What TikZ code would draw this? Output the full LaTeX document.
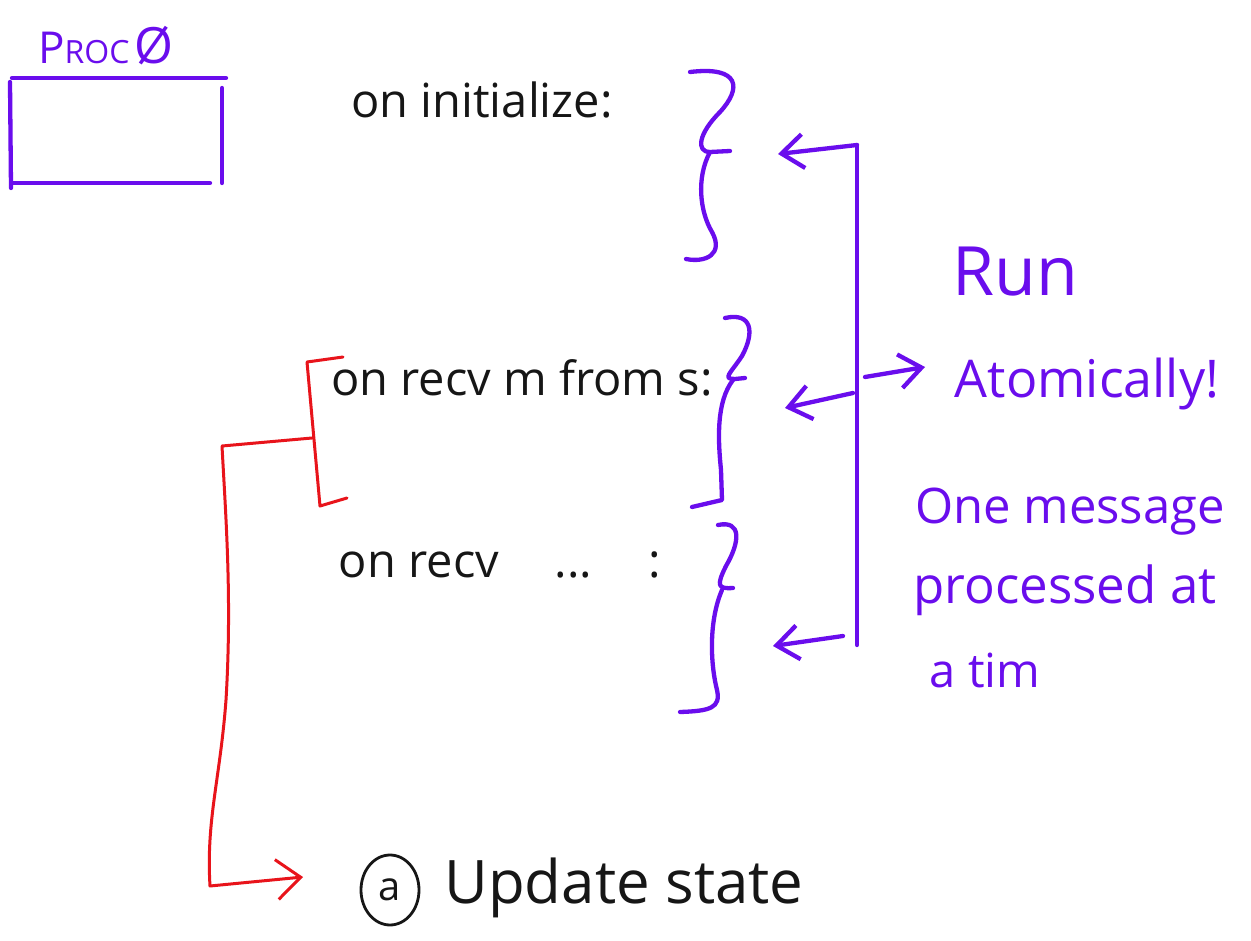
\documentclass[tikz,border=0pt]{standalone}
\usepackage{fontspec}
\setmainfont{Open Sans}
\usetikzlibrary{arrows.meta,shapes.geometric}
\definecolor{pur}{HTML}{6A0DED}
\definecolor{rd}{HTML}{E8141B}
\definecolor{ink}{HTML}{161616}
\tikzset{
  pen/.style={draw=pur, line width=4.3pt, line cap=round, line join=round},
  redpen/.style={draw=rd, line width=3pt, line cap=round, line join=round},
  barb/.style={-{Straight Barb[length=22pt,width=34pt]}},
  rbarb/.style={-{Straight Barb[length=24pt,width=40pt]}},
  btext/.style={text=ink, inner sep=0pt, anchor=center},
  ptext/.style={text=pur, inner sep=0pt, anchor=center},
}
\begin{document}
\begin{tikzpicture}[x=1pt,y=-1pt]
\useasboundingbox[fill=white] (0,0) rectangle (1251,941);

% Proc box
\node[ptext, font=\fontsize{32}{32}\selectfont] (proc) at (106,46) {{\fontsize{44}{44}\selectfont P}ROC\,{\fontsize{50}{50}\selectfont Ø}};
\draw[pen] (12,78) -- (226,78);
\draw[pen] (10,82) -- (11,188);
\draw[pen] (12,183) -- (210,183);
\draw[pen] (222,88) -- (222,183);

% black texts
\node[btext, font=\fontsize{47}{47}\selectfont] (init) at (482,100) {on initialize:};
\node[btext, font=\fontsize{47}{47}\selectfont] (recv1) at (522,378) {on recv m from s:};
\node[btext, font=\fontsize{47}{47}\selectfont] (recv2) at (500,565) {on recv\hspace{56pt}...\hspace{56pt}:};
\node[draw=ink, line width=2.8pt, ellipse, minimum width=58pt, minimum height=70pt, inner sep=0pt, text=ink, font=\fontsize{40}{40}\selectfont] (circa) at (390,890) {a};
\node[btext, font=\fontsize{60}{60}\selectfont] (upd) at (624,888) {Update state};

% braces
\draw[pen] (690,72) .. controls (740,66) and (742,88) .. (720,112) .. controls (698,134) and (696,152) .. (710,152) -- (730,151);
\draw[pen] (710,152) .. controls (696,178) and (700,212) .. (712,232) .. controls (724,254) and (706,263) .. (686,259);

\draw[pen] (725,318) .. controls (752,312) and (755,332) .. (742,356) .. controls (730,374) and (722,379) .. (735,379) -- (745,378);
\draw[pen] (733,380) .. controls (716,402) and (718,440) .. (721,470) -- (722,500) -- (692,507);

\draw[pen] (718,525) .. controls (742,520) and (740,542) .. (726,566) .. controls (716,586) and (718,589) .. (733,588);
\draw[pen] (722,590) .. controls (709,620) and (710,662) .. (717,690) .. controls (721,708) and (710,711) .. (680,712);

% vertical line & arrows
\coordinate (vtop) at (857,145);
\coordinate (vbot) at (857,645);
\coordinate (vm) at (853,393);
\coordinate (vb) at (843,636);
\coordinate (vr) at (865,377);
\coordinate (t1) at (778,154);
\coordinate (t2) at (785,408);
\coordinate (t3) at (773,646);
\coordinate (t4) at (925,367);
\draw[pen] (vtop) -- (vbot);
\draw[pen, barb] (vtop) -- (t1);
\draw[pen, barb] (vm) -- (t2);
\draw[pen, barb] (vb) -- (t3);
\draw[pen, barb] (vr) -- (t4);

% purple texts
\node[ptext, font=\fontsize{68}{68}\selectfont] (run) at (1015,272) {Run};
\node[ptext, font=\fontsize{52}{52}\selectfont] (atom) at (1087,384) {Atomically!};
\node[ptext, font=\fontsize{49}{49}\selectfont] (one) at (1070,512) {One message};
\node[ptext, font=\fontsize{51}{51}\selectfont] (proc2) at (1065,590) {processed at};
\node[ptext, font=\fontsize{47}{47}\selectfont] (atim) at (985,670) {a tim};

% red bracket and arrow
\coordinate (rb) at (312,438);
\coordinate (rtip) at (303,877);
\draw[redpen] (343,357) -- (307,362) -- (320,506) -- (347,498);
\draw[redpen, rbarb] (rb) -- (222,446) .. controls (226,520) and (232,600) .. (226,700) .. controls (220,780) and (206,820) .. (210,886) -- (rtip);
\end{tikzpicture}
\end{document}
